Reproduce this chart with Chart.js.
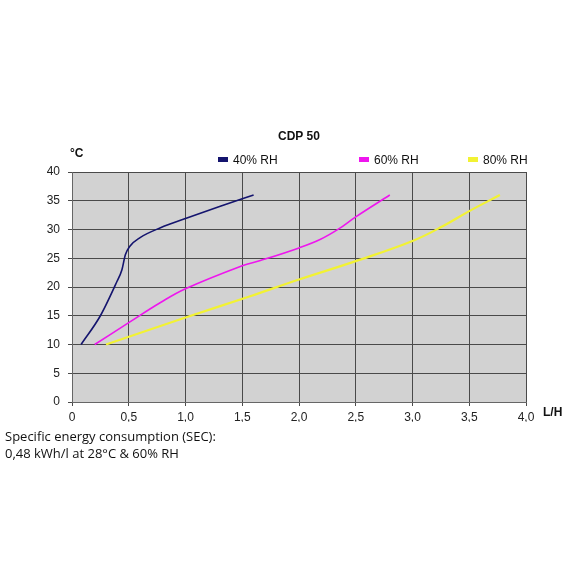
<!DOCTYPE html>
<html>
<head>
<meta charset="utf-8">
<script src="https://cdn.jsdelivr.net/npm/chart.js@4"></script>
<style>
  body { margin: 0; background: #fff; }
  #wrap { position: relative; width: 570px; height: 570px; }
  canvas { position: absolute; left: 0; top: 0; }
  .lbl { position: absolute; font-family: Arial, "Liberation Sans", sans-serif; color: #111; white-space: nowrap; }
  .b { font-weight: bold; font-size: 12px; }
  .leg { font-size: 12px; }
  .leg i { display: inline-block; width: 10px; height: 5px; margin-right: 5px; vertical-align: middle; position: relative; top: -1px; }
  .note { font-family: "Open Sans", sans-serif; font-size: 13px; line-height: 17px; color: #111; }
</style>
</head>
<body>
<div id="wrap">
  <canvas id="c" width="570" height="570"></canvas>
  <div class="lbl b" style="left:278px;top:129px;">CDP 50</div>
  <div class="lbl b" style="left:70px;top:146px;">°C</div>
  <div class="lbl b" style="left:543px;top:405px;">L/H</div>
  <div class="lbl leg" style="left:218px;top:153px;"><i style="background:#14146e"></i>40% RH</div>
  <div class="lbl leg" style="left:359px;top:153px;"><i style="background:#ee16ee"></i>60% RH</div>
  <div class="lbl leg" style="left:468px;top:153px;"><i style="background:#f2f233"></i>80% RH</div>
  <div class="lbl note" style="left:5px;top:428px;">Specific energy consumption (SEC):<br>0,48 kWh/l at 28°C &amp; 60% RH</div>
</div>
<script>
// 40% RH
const rh40X = [0.08, 0.25, 0.39, 0.44, 0.47, 0.51, 0.6, 0.78, 1.0, 1.3, 1.6];
const rh40Y = [10, 15, 20.7, 23, 25.6, 27.1, 28.6, 30.3, 31.9, 34, 36];
// 60% RH
const rh60X = [0.2, 0.5, 0.78, 1.0, 1.5, 1.66, 2.0, 2.19, 2.35, 2.5, 2.8];
const rh60Y = [10, 13.8, 17.3, 19.7, 23.7, 24.6, 26.8, 28.3, 30.1, 32.2, 36];
// 80% RH
const rh80X = [0.3, 1.0, 1.57, 2.0, 2.5, 3.0, 3.27, 3.5, 3.77];
const rh80Y = [10, 14.7, 18.4, 21.3, 24.5, 28.0, 30.6, 33.2, 36];

const toPts = (xs, ys) => xs.map((x, i) => ({ x: x, y: ys[i] }));

Chart.defaults.font.family = "Arial, 'Liberation Sans', sans-serif";

const plotBg = {
  id: 'plotBg',
  beforeDraw(chart) {
    const a = chart.chartArea, ctx = chart.ctx;
    ctx.save();
    ctx.fillStyle = '#d2d2d2';
    ctx.fillRect(a.left, a.top, a.right - a.left, a.bottom - a.top);
    ctx.restore();
  }
};

new Chart(document.getElementById('c'), {
  type: 'scatter',
  data: {
    datasets: [
      { label: '40% RH', data: toPts(rh40X, rh40Y), borderColor: '#14146e', borderWidth: 1.6, cubicInterpolationMode: 'monotone' },
      { label: '60% RH', data: toPts(rh60X, rh60Y), borderColor: '#ee16ee', borderWidth: 1.6, tension: 0.4 },
      { label: '80% RH', data: toPts(rh80X, rh80Y), borderColor: '#f2f233', borderWidth: 2.2, tension: 0.4 }
    ].map(d => Object.assign(d, { showLine: true, pointRadius: 0 }))
  },
  options: {
    responsive: false,
    animation: false,
    layout: { padding: { left: 32, top: 172, right: 44, bottom: 148 } },
    plugins: { legend: { display: false }, tooltip: { enabled: false } },
    scales: {
      x: {
        type: 'linear', min: 0, max: 4,
        afterFit: s => { s.height = 20; },
        ticks: { stepSize: 0.5, color: '#222', font: { size: 12 }, padding: 4,
          callback: v => v === 0 ? '0' : v.toFixed(1).replace('.', ',') },
        grid: { color: '#4a4a4a', tickLength: 4 },
        border: { color: '#666' }
      },
      y: {
        min: 0, max: 40,
        afterFit: s => { s.width = 40; },
        ticks: { stepSize: 5, color: '#222', font: { size: 12 }, padding: 8 },
        grid: { color: '#4a4a4a', tickLength: 4 },
        border: { color: '#666' }
      }
    }
  },
  plugins: [plotBg]
});
</script>
</body>
</html>
